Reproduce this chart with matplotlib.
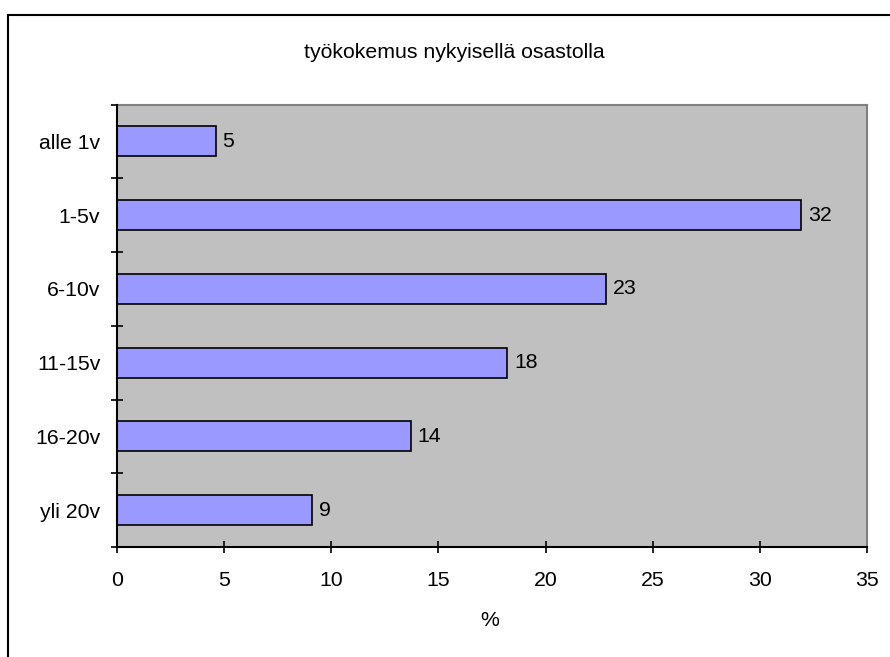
import numpy as np
import matplotlib
matplotlib.use("Agg")
import matplotlib.pyplot as plt
from matplotlib.patches import Rectangle

plt.rcParams['font.family'] = ['Liberation Sans', 'DejaVu Sans']

# data
categories = ["alle 1v", "1-5v", "6-10v", "11-15v", "16-20v", "yli 20v"]
values = [4.6, 31.9, 22.8, 18.2, 13.7, 9.1]
x_ticks = [0, 5, 10, 15, 20, 25, 30, 35]
title = "työkokemus nykyisellä osastolla"
x_label = "%"

FS = 15.3

fig = plt.figure(figsize=(8.9, 6.57), dpi=100, facecolor='white')
ax = fig.add_axes([117/890, 1 - 547/657, (867 - 117)/890, (547 - 104.5)/657])
ax.set_facecolor('#C0C0C0')

# outer chart border (only top/left fall inside the image)
fig.patches.append(Rectangle((8/890, -0.1), 1.2, 1.1 - 15/657,
                             transform=fig.transFigure, fill=False,
                             edgecolor='black', linewidth=1.5, zorder=0))

ypos = np.arange(len(categories))
ax.barh(ypos, values, height=0.41, color='#9999FF', edgecolor='black',
        linewidth=1.2, zorder=3)

for y, v in zip(ypos, values):
    ax.text(v + 0.33, y, f"{v:.0f}", va='center', ha='left', fontsize=FS)

ax.set_xlim(0, 35)
ax.set_ylim(len(categories) - 0.5, -0.5)

ax.set_xticks(x_ticks)
ax.set_xticklabels([str(t) for t in x_ticks], fontsize=FS)
ax.tick_params(axis='x', direction='inout', length=8.5, width=1.2, pad=13)

# ticks on the category boundaries, labels at the centres
ax.set_yticks(np.arange(-0.5, len(categories), 1.0))
ax.set_yticklabels([])
ax.set_yticks(ypos, minor=True)
ax.set_yticklabels(categories, minor=True, fontsize=FS)
ax.tick_params(axis='y', which='major', direction='inout', length=8.5, width=1.2)
ax.tick_params(axis='y', which='minor', length=0, pad=12)

for s in ['left', 'bottom']:
    ax.spines[s].set_color('black')
    ax.spines[s].set_linewidth(1.5)
for s in ['top', 'right']:
    ax.spines[s].set_color('#808080')
    ax.spines[s].set_linewidth(1.5)
ax.spines['left'].set_zorder(4)

fig.text(454/890, 1 - 52/657, title, ha='center', va='center', fontsize=FS)
fig.text(490/890, 1 - 621/657, x_label, ha='center', va='center', fontsize=FS)

fig.savefig("out.png", dpi=100, facecolor='white')
